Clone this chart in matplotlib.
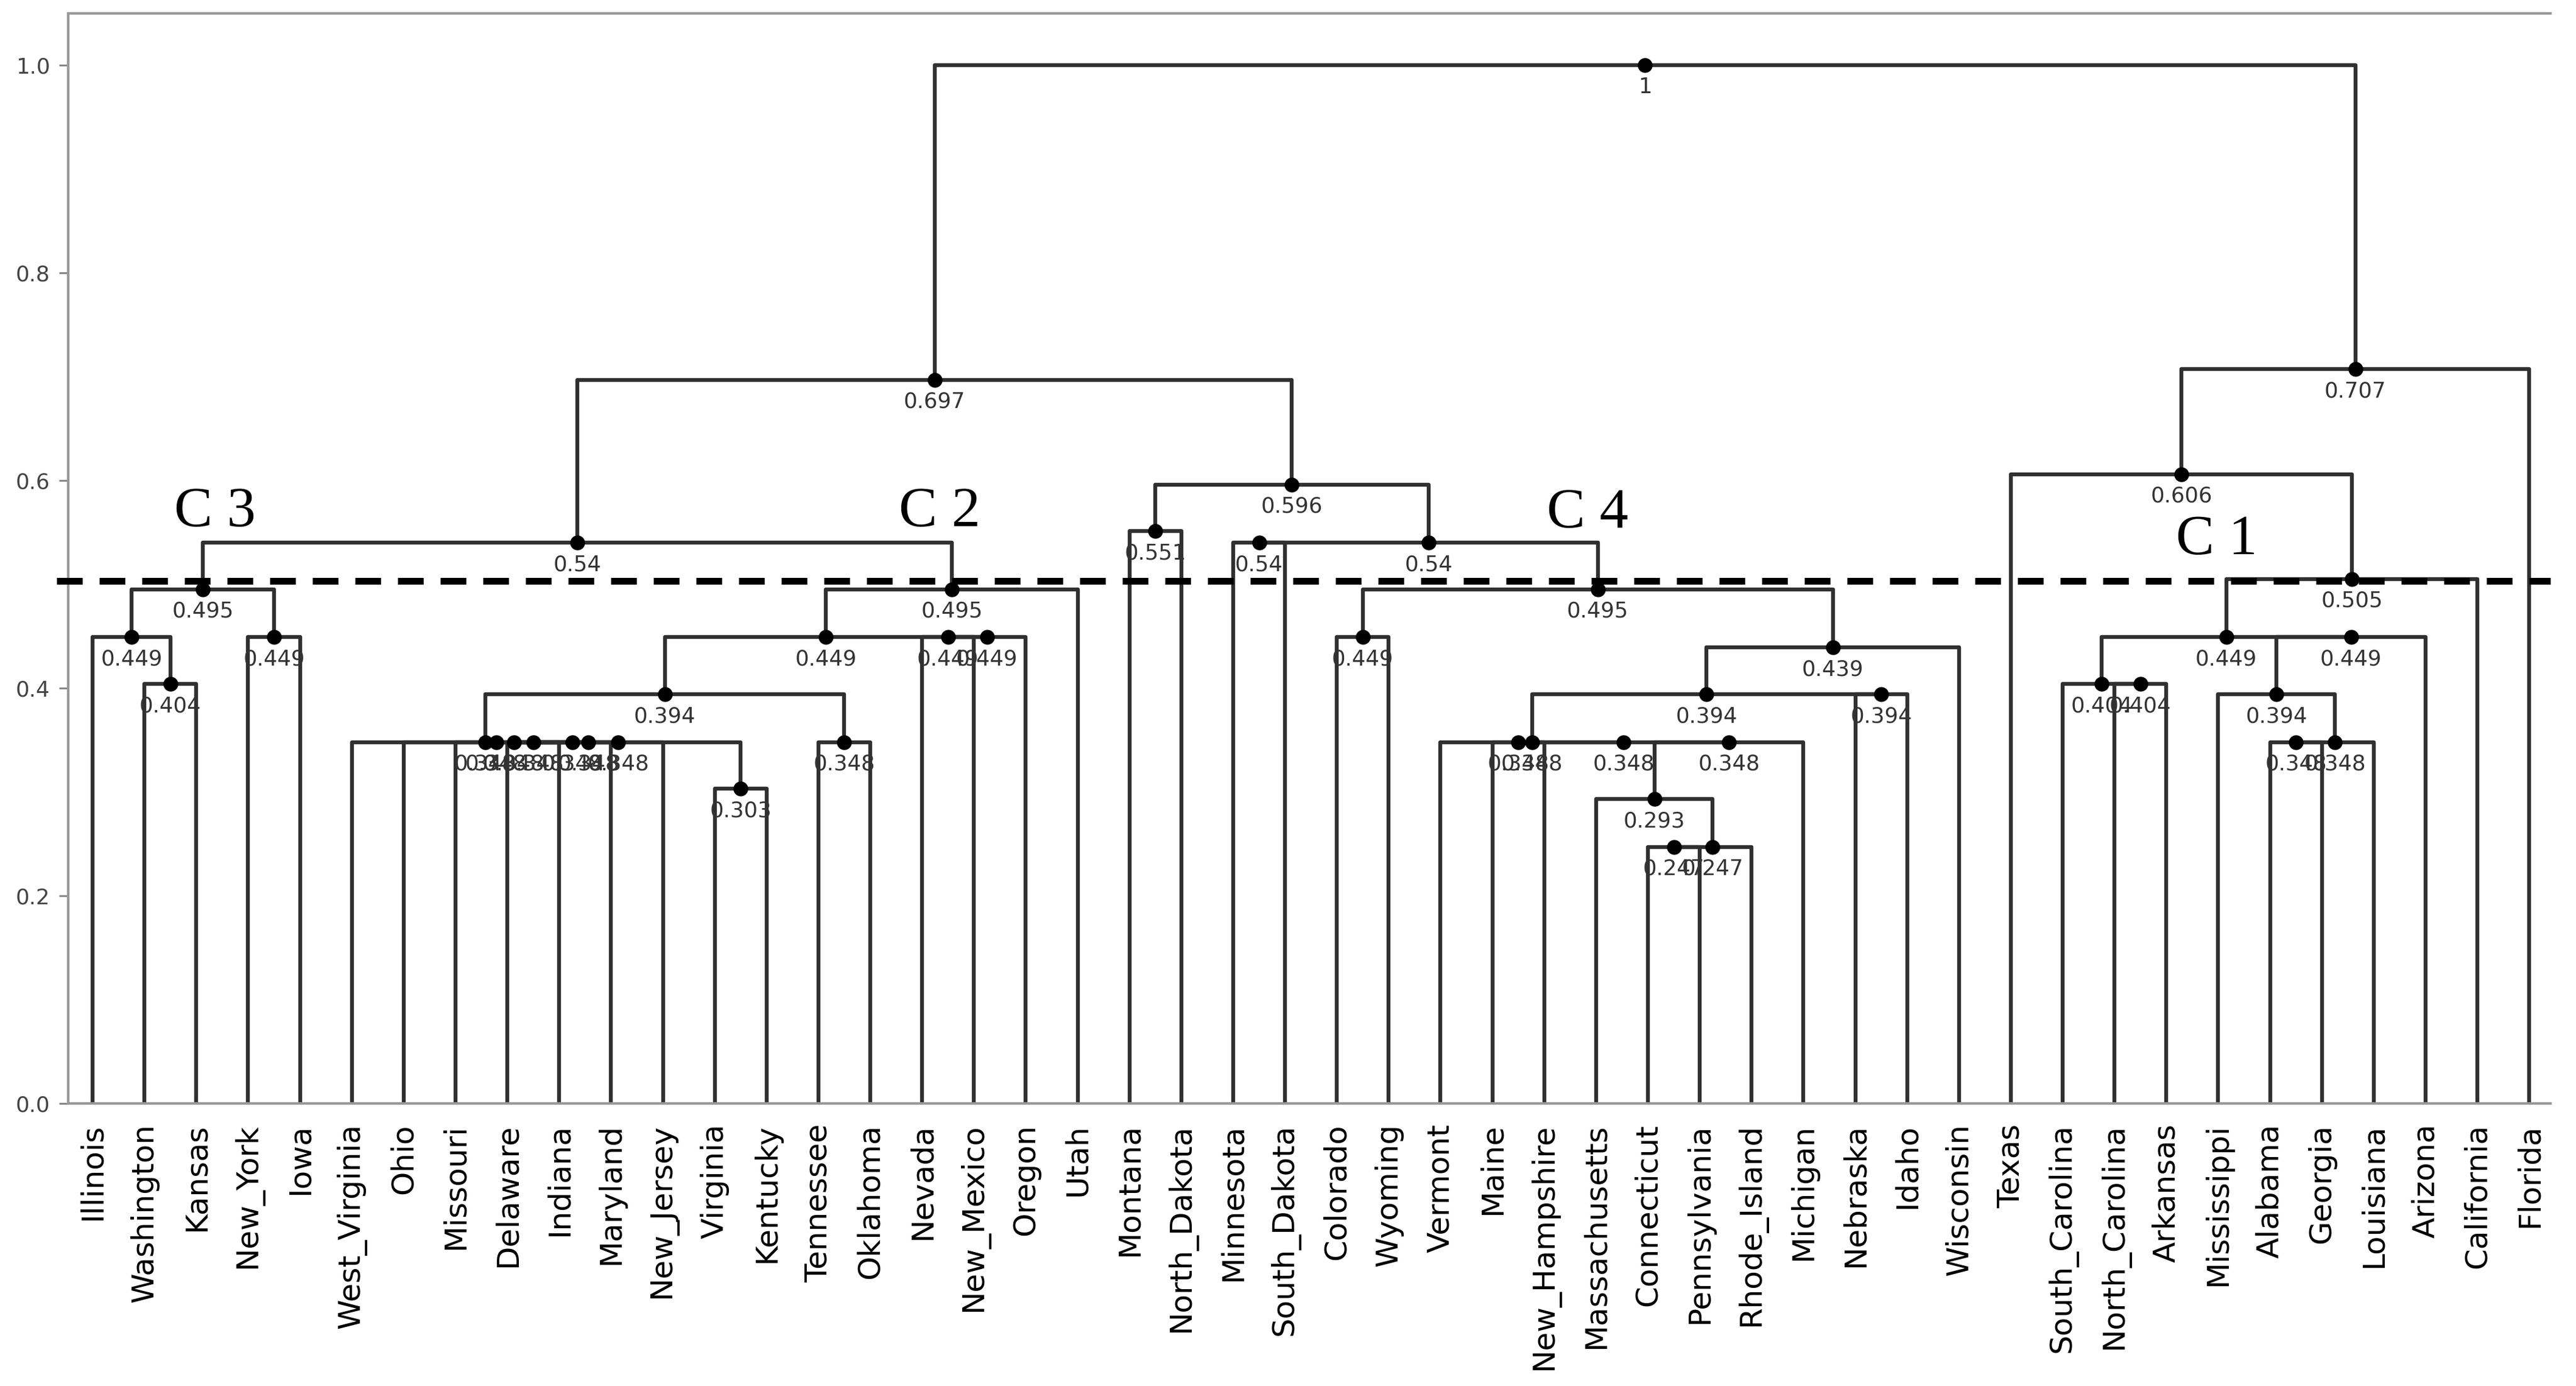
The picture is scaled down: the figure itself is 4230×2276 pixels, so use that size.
import matplotlib
matplotlib.use("Agg")
import matplotlib.pyplot as plt

# leaf order along the x axis
states = ["Illinois", "Washington", "Kansas", "New_York", "Iowa", "West_Virginia", "Ohio",
          "Missouri", "Delaware", "Indiana", "Maryland", "New_Jersey", "Virginia", "Kentucky",
          "Tennessee", "Oklahoma", "Nevada", "New_Mexico", "Oregon", "Utah", "Montana",
          "North_Dakota", "Minnesota", "South_Dakota", "Colorado", "Wyoming", "Vermont", "Maine",
          "New_Hampshire", "Massachusetts", "Connecticut", "Pennsylvania", "Rhode_Island",
          "Michigan", "Nebraska", "Idaho", "Wisconsin", "Texas", "South_Carolina",
          "North_Carolina", "Arkansas", "Mississippi", "Alabama", "Georgia", "Louisiana",
          "Arizona", "California", "Florida"]

# merges: (node, left child, right child, height)
links = [
    ("c3a", "Washington", "Kansas", 0.404),
    ("c3b", "Illinois", "c3a", 0.449),
    ("c3c", "New_York", "Iowa", 0.449),
    ("c3", "c3b", "c3c", 0.495),
    ("c2a", "Delaware", "Indiana", 0.348),
    ("c2b", "c2a", "Maryland", 0.348),
    ("c2c", "Missouri", "c2b", 0.348),
    ("c2d", "c2c", "New_Jersey", 0.348),
    ("c2e", "Ohio", "c2d", 0.348),
    ("c2f", "Virginia", "Kentucky", 0.303),
    ("c2g", "c2e", "c2f", 0.348),
    ("c2h", "West_Virginia", "c2g", 0.348),
    ("c2i", "Tennessee", "Oklahoma", 0.348),
    ("c2j", "c2h", "c2i", 0.394),
    ("c2k", "Nevada", "New_Mexico", 0.449),
    ("c2l", "c2k", "Oregon", 0.449),
    ("c2m", "c2j", "c2l", 0.449),
    ("c2", "c2m", "Utah", 0.495),
    ("c23", "c3", "c2", 0.54),
    ("md", "Montana", "North_Dakota", 0.551),
    ("ms", "Minnesota", "South_Dakota", 0.54),
    ("c4a", "Colorado", "Wyoming", 0.449),
    ("c4b", "Connecticut", "Pennsylvania", 0.247),
    ("c4c", "c4b", "Rhode_Island", 0.247),
    ("c4d", "Massachusetts", "c4c", 0.293),
    ("c4e", "c4d", "Michigan", 0.348),
    ("c4f", "Maine", "New_Hampshire", 0.348),
    ("c4g", "c4f", "c4e", 0.348),
    ("c4h", "Vermont", "c4g", 0.348),
    ("c4i", "Nebraska", "Idaho", 0.394),
    ("c4j", "c4h", "c4i", 0.394),
    ("c4k", "c4j", "Wisconsin", 0.439),
    ("c4", "c4a", "c4k", 0.495),
    ("c4m", "ms", "c4", 0.54),
    ("c4n", "md", "c4m", 0.596),
    ("left", "c23", "c4n", 0.697),
    ("c1a", "North_Carolina", "Arkansas", 0.404),
    ("c1b", "South_Carolina", "c1a", 0.404),
    ("c1c", "Alabama", "Georgia", 0.348),
    ("c1d", "c1c", "Louisiana", 0.348),
    ("c1e", "Mississippi", "c1d", 0.394),
    ("c1f", "c1e", "Arizona", 0.449),
    ("c1g", "c1b", "c1f", 0.449),
    ("c1", "c1g", "California", 0.505),
    ("tx", "Texas", "c1", 0.606),
    ("right", "tx", "Florida", 0.707),
    ("root", "left", "right", 1.0),
]

cutoff = 0.503
clusterNames = ["C 3", "C 2", "C 4", "C 1"]
# where the cluster names sit (leaf index, height of baseline)
clusterPlaces = [(2.36, 0.556), (16.34, 0.556), (28.84, 0.555), (40.97, 0.529)]

lineColor = "#303030"


def drawTree(ax):
	pos = {}
	for i, name in enumerate(states):
		pos[name] = (i, 0.0)
	for node, left, right, h in links:
		xl, hl = pos[left]
		xr, hr = pos[right]
		ax.plot([xl, xl, xr, xr], [hl, h, h, hr], color=lineColor, lw=4.6, zorder=2)
		x = (xl + xr) / 2
		pos[node] = (x, h)
		ax.plot(x, h, "o", color="black", ms=16.5, zorder=4)
		ax.annotate("%g" % h, (x, h), xytext=(0, -46), textcoords="offset pixels",
		            ha="center", va="baseline", fontsize=25.5, color="#333333", zorder=5)


def createGraph():
	fig = plt.figure(figsize=(42.3, 22.76), dpi=100)
	ax = fig.add_axes([0.0265, 0.2039, 0.9901 - 0.0265, 0.9905 - 0.2039])

	drawTree(ax)

	ax.plot([-0.69, 47.41], [cutoff, cutoff], color="black", lw=8, dashes=(3.8, 2.5),
	        clip_on=False, zorder=3)

	for name, (x, y) in zip(clusterNames, clusterPlaces):
		ax.text(x, y, name, ha="center", va="baseline", fontsize=68,
		        family="Liberation Serif", color="black", zorder=6)

	ax.set_xlim(-0.47, 47.41)
	ax.set_ylim(0, 1.05)
	ax.set_xticks(range(len(states)))
	ax.set_xticklabels(states, rotation=90, fontsize=36)
	ax.tick_params(axis="x", length=0, pad=24)
	ax.set_yticks([0.0, 0.2, 0.4, 0.6, 0.8, 1.0])
	ax.tick_params(axis="y", labelsize=25.5, length=10.8, width=2.2, pad=10.8,
	               color="#888888", labelcolor="#444444")

	ax.spines["right"].set_visible(False)
	for side in ["left", "top", "bottom"]:
		ax.spines[side].set_color("#999999")
		ax.spines[side].set_linewidth(3)

	fig.savefig("out.png", dpi=100)


if __name__ == '__main__':
	createGraph()
